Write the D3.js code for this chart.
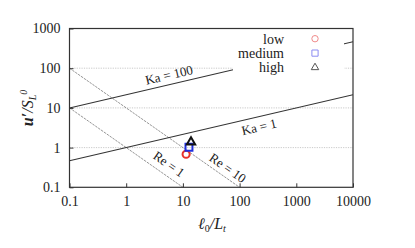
<!DOCTYPE html>
<html>
<head>
<meta charset="utf-8">
<script src="https://cdn.jsdelivr.net/npm/d3@7"></script>
<style>
  body { margin: 0; background: #fff; }
  svg text { font-family: "Liberation Serif", "Times New Roman", "DejaVu Serif", serif; fill: #222; }
</style>
</head>
<body>
<svg id="chart" width="415" height="248"></svg>
<script>
"use strict";

// data
var xTicks = [0.1, 1, 10, 100, 1000, 10000];
var yTicks = [0.1, 1, 10, 100, 1000];
var gridY = [1, 10, 100];

var caseNames = ["low", "medium", "high"];
var caseLength = [11.4, 12.8, 13.9];   // l0/Lt
var caseVelocity = [0.68, 1.02, 1.37]; // u'/SL0
var caseColors = ["#e8312b", "#1f2ee0", "#111"];
var legendColors = ["#f08a8a", "#8c8cf2", "#555"];

// regime lines, end points
var kaOne = [[0.1, 0.464], [10000, 21.5]];
var kaHundred = [[0.1, 10], [10000, 464]];
var reOne = [[0.1, 10], [10, 0.1]];
var reTen = [[0.1, 100], [100, 0.1]];

// label anchors (data coords)
var kaLabels = [["Ka = 100", 5.7, 68], ["Ka = 1", 220, 3.33]];
var reLabels = [["Re = 1", 5.7, 0.387], ["Re = 10", 62, 0.307]];

var FONT = "'Liberation Serif', 'Times New Roman', 'DejaVu Serif', serif";

var svg = d3.select("#chart");
var m = { left: 69.5, right: 353, top: 28.5, bottom: 187.3 };

var x = d3.scaleLog().domain([0.1, 10000]).range([m.left, m.right]);
var y = d3.scaleLog().domain([0.1, 1000]).range([m.bottom, m.top]);

var line = d3.line()
    .x(function (d) { return x(d[0]); })
    .y(function (d) { return y(d[1]); });

svg.append("clipPath").attr("id", "clip")
  .append("rect")
    .attr("x", m.left).attr("y", m.top)
    .attr("width", m.right - m.left).attr("height", m.bottom - m.top);

// horizontal grid
svg.append("g").selectAll("line")
    .data(gridY).enter().append("line")
    .attr("x1", m.left).attr("x2", m.right)
    .attr("y1", function (d) { return y(d); })
    .attr("y2", function (d) { return y(d); })
    .attr("stroke", "#bbb").attr("stroke-width", 0.8)
    .attr("stroke-dasharray", "1.2,1.2");

var plot = svg.append("g").attr("clip-path", "url(#clip)");

// Re lines, thin grey
[reOne, reTen].forEach(function (d) {
  plot.append("path").datum(d).attr("d", line)
      .attr("fill", "none").attr("stroke", "#666")
      .attr("stroke-width", 0.7).attr("stroke-dasharray", "2.5,1");
});

// Ka lines
[kaOne, kaHundred].forEach(function (d) {
  plot.append("path").datum(d).attr("d", line)
      .attr("fill", "none").attr("stroke", "#333")
      .attr("stroke-width", 1.05);
});

// slope angles in pixels
function angle(seg) {
  var dx = x(seg[1][0]) - x(seg[0][0]);
  var dy = y(seg[1][1]) - y(seg[0][1]);
  return Math.atan2(dy, dx) * 180 / Math.PI;
}
var kaAng = angle(kaOne);
var reAng = angle(reOne);

function addLabels(list, ang) {
  svg.append("g").selectAll("text")
      .data(list).enter().append("text")
      .attr("transform", function (d) {
        return "translate(" + x(d[1]) + "," + y(d[2]) + ") rotate(" + ang + ")";
      })
      .attr("text-anchor", "middle").attr("dy", "0.35em")
      .style("font-family", FONT).style("font-size", "13px")
      .text(function (d) { return d[0]; });
}
addLabels(kaLabels, kaAng);
addLabels(reLabels, reAng);

// legend box (white, hides lines behind it)
var lg = svg.append("g");
lg.append("rect").attr("x", 233).attr("y", 30).attr("width", 111).attr("height", 44)
    .attr("fill", "#fff");

// data markers
var sym = [d3.symbolCircle, d3.symbolSquare, d3.symbolTriangle];
var symSize = [40, 48, 30];
svg.append("g").selectAll("path")
    .data(caseNames).enter().append("path")
    .attr("transform", function (d, i) {
      return "translate(" + x(caseLength[i]) + "," + y(caseVelocity[i]) + ")";
    })
    .attr("d", function (d, i) { return d3.symbol(sym[i], symSize[i])(); })
    .attr("fill", "none")
    .attr("stroke", function (d, i) { return caseColors[i]; })
    .attr("stroke-width", 2);

// legend entries
var rows = lg.selectAll("g.row").data(caseNames).enter().append("g")
    .attr("transform", function (d, i) { return "translate(0," + (38.7 + i * 14.4) + ")"; });
rows.append("text").attr("x", 284).attr("dy", "0.35em")
    .attr("text-anchor", "end")
    .style("font-family", FONT).style("font-size", "14px")
    .text(function (d) { return d; });
rows.append("path")
    .attr("transform", "translate(315,0)")
    .attr("d", function (d, i) { return d3.symbol(sym[i], symSize[i] * 0.8)(); })
    .attr("fill", "none")
    .attr("stroke", function (d, i) { return legendColors[i]; })
    .attr("stroke-width", 1);

// frame
svg.append("rect")
    .attr("x", m.left).attr("y", m.top)
    .attr("width", m.right - m.left).attr("height", m.bottom - m.top)
    .attr("fill", "none").attr("stroke", "#333").attr("stroke-width", 1.2);

// axes
var xAxis = d3.axisBottom(x).tickValues(xTicks).tickSizeInner(-4).tickSizeOuter(0)
    .tickPadding(9).tickFormat(function (d) { return String(d); });
var yAxis = d3.axisLeft(y).tickValues(yTicks).tickSizeInner(-4).tickSizeOuter(0)
    .tickPadding(9).tickFormat(function (d) { return String(d); });

var gx = svg.append("g").attr("transform", "translate(0," + m.bottom + ")").call(xAxis);
var gy = svg.append("g").attr("transform", "translate(" + m.left + ",0)").call(yAxis);
[gx, gy].forEach(function (g) {
  g.attr("font-family", null).attr("font-size", null);
  g.select(".domain").remove();
  g.selectAll(".tick line").attr("stroke", "#333");
  g.selectAll(".tick text").attr("fill", "#222")
      .style("font-family", FONT).style("font-size", "14px");
});

// axis titles
var xt = svg.append("text").attr("x", 212).attr("y", 229)
    .attr("text-anchor", "middle")
    .style("font-family", FONT).style("font-size", "16px").style("font-style", "italic");
xt.append("tspan").text("\u2113");
xt.append("tspan").attr("dy", 3).style("font-size", "10px").style("font-style", "normal").text("0");
xt.append("tspan").attr("dy", -3).text("/L");
xt.append("tspan").attr("dy", 3).style("font-size", "10px").text("t");

var yt = svg.append("text").attr("transform", "translate(33,108) rotate(-90)")
    .attr("text-anchor", "middle")
    .style("font-family", FONT).style("font-size", "16px").style("font-style", "italic");
yt.append("tspan").style("font-weight", "bold").text("u\u2032");
yt.append("tspan").text("/S");
yt.append("tspan").attr("dy", 3).style("font-size", "10px").text("L");
yt.append("tspan").attr("dy", -9).style("font-size", "10px").text("0");
</script>
</body>
</html>
